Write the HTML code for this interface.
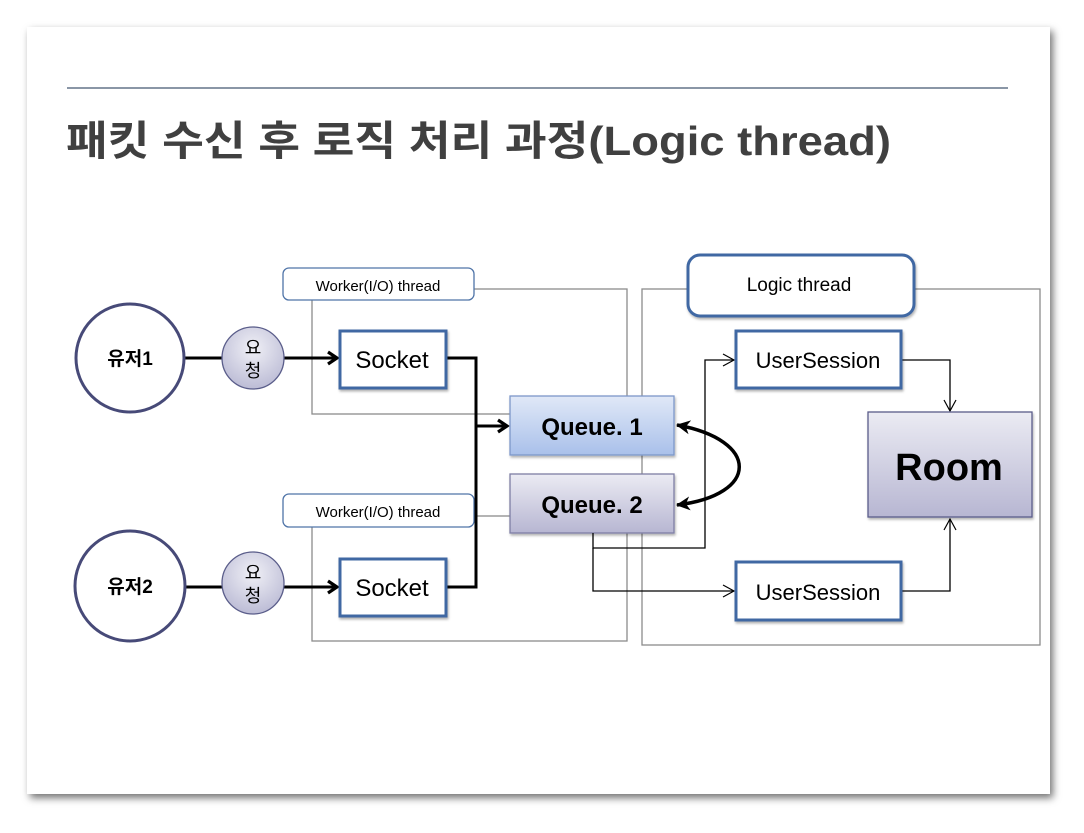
<!DOCTYPE html>
<html><head><meta charset="utf-8"><style>
body{margin:0;background:#fff;width:1084px;height:828px;overflow:hidden}
</style></head><body>
<svg width="1084" height="828" xmlns="http://www.w3.org/2000/svg" font-family="'Liberation Sans','Noto Sans CJK KR',sans-serif">
<defs>
<filter id="sh" x="-5%" y="-5%" width="110%" height="110%"><feDropShadow dx="3" dy="4" stdDeviation="4" flood-color="#000" flood-opacity="0.55"/></filter>
<filter id="s2"><feDropShadow dx="1" dy="2" stdDeviation="1.2" flood-color="#000" flood-opacity="0.3"/></filter>
<linearGradient id="q1" x1="0" y1="0" x2="0" y2="1"><stop offset="0" stop-color="#e0e8f7"/><stop offset="1" stop-color="#a9c0ea"/></linearGradient>
<linearGradient id="q2" x1="0" y1="0" x2="0" y2="1"><stop offset="0" stop-color="#ebebf3"/><stop offset="1" stop-color="#b7b6d2"/></linearGradient>
<radialGradient id="rq" cx="0.5" cy="0.35" r="0.7"><stop offset="0" stop-color="#f0f0f6"/><stop offset="1" stop-color="#b8b8d3"/></radialGradient>
<marker id="ab" markerWidth="14" markerHeight="16" refX="11" refY="8" orient="auto" markerUnits="userSpaceOnUse"><path d="M2,2 L11,8 L2,14" fill="none" stroke="#000" stroke-width="3.2"/></marker>
<marker id="at" markerWidth="14" markerHeight="14" refX="12" refY="7" orient="auto" markerUnits="userSpaceOnUse"><path d="M1,1 L12,7 L1,13" fill="none" stroke="#000" stroke-width="1.2"/></marker>
<marker id="cv" markerWidth="16" markerHeight="16" refX="13" refY="8" orient="auto-start-reverse" markerUnits="userSpaceOnUse"><path d="M0,1 L14,8 L0,15 L4,8Z" fill="#000"/></marker>
</defs>
<rect x="27" y="27" width="1023" height="767" fill="#fff" filter="url(#sh)"/>
<line x1="67" y1="88" x2="1008" y2="88" stroke="#8a96a6" stroke-width="2"/>
<text x="66" y="155" font-size="41" font-weight="bold" fill="#404040" textLength="825" lengthAdjust="spacingAndGlyphs">패킷 수신 후 로직 처리 과정(Logic thread)</text>

<rect x="312" y="289" width="315" height="125" fill="none" stroke="#8c8c8c" stroke-width="1.3"/>
<rect x="312" y="516" width="315" height="125" fill="none" stroke="#8c8c8c" stroke-width="1.3"/>
<rect x="642" y="289" width="398" height="356" fill="none" stroke="#8c8c8c" stroke-width="1.3"/>
<rect x="283" y="268" width="191" height="32" rx="6" fill="#fff" stroke="#4f74a8" stroke-width="1.3"/>
<text x="378" y="291" font-size="15" text-anchor="middle">Worker(I/O) thread</text>
<rect x="283" y="494" width="191" height="33" rx="6" fill="#fff" stroke="#4f74a8" stroke-width="1.3"/>
<text x="378" y="517" font-size="15" text-anchor="middle">Worker(I/O) thread</text>
<rect x="688" y="255" width="226" height="61" rx="12" fill="#fff" stroke="#3f67a3" stroke-width="3" filter="url(#s2)"/>
<text x="799" y="291" font-size="19" text-anchor="middle">Logic thread</text>

<line x1="184" y1="358" x2="337" y2="358" stroke="#000" stroke-width="3" marker-end="url(#ab)"/>
<line x1="184" y1="587" x2="337" y2="587" stroke="#000" stroke-width="3" marker-end="url(#ab)"/>
<polyline points="446,358 476,358 476,587 446,587" fill="none" stroke="#000" stroke-width="3"/>
<line x1="476" y1="426" x2="507" y2="426" stroke="#000" stroke-width="3" marker-end="url(#ab)"/>

<circle cx="130" cy="358" r="54" fill="#fff" stroke="#474a78" stroke-width="3"/>
<text x="130" y="365" font-size="19" font-weight="bold" text-anchor="middle">유저1</text>
<circle cx="130" cy="586" r="55" fill="#fff" stroke="#474a78" stroke-width="3"/>
<text x="130" y="593" font-size="19" font-weight="bold" text-anchor="middle">유저2</text>
<circle cx="253" cy="358" r="31" fill="url(#rq)" stroke="#5a5d8a" stroke-width="1.3"/>
<text x="253" y="354" font-size="18" text-anchor="middle">요</text><text x="253" y="377" font-size="18" text-anchor="middle">청</text>
<circle cx="253" cy="583" r="31" fill="url(#rq)" stroke="#5a5d8a" stroke-width="1.3"/>
<text x="253" y="579" font-size="18" text-anchor="middle">요</text><text x="253" y="602" font-size="18" text-anchor="middle">청</text>

<rect x="340" y="331" width="106" height="57" fill="#fff" stroke="#3f67a3" stroke-width="3" filter="url(#s2)"/>
<text x="392" y="368" font-size="24" text-anchor="middle">Socket</text>
<rect x="340" y="559" width="106" height="57" fill="#fff" stroke="#3f67a3" stroke-width="3" filter="url(#s2)"/>
<text x="392" y="596" font-size="24" text-anchor="middle">Socket</text>

<rect x="510" y="396" width="164" height="59" fill="url(#q1)" stroke="#7d97c9" stroke-width="1.3" filter="url(#s2)"/>
<text x="592" y="435" font-size="24" font-weight="bold" text-anchor="middle">Queue. 1</text>
<rect x="510" y="474" width="164" height="59" fill="url(#q2)" stroke="#7e7ea4" stroke-width="1.3" filter="url(#s2)"/>
<text x="592" y="513" font-size="24" font-weight="bold" text-anchor="middle">Queue. 2</text>

<path d="M677,425 C760,440 760,495 677,505" fill="none" stroke="#000" stroke-width="3.5" marker-start="url(#cv)" marker-end="url(#cv)"/>

<polyline points="593,533 593,548 705,548 705,360 734,360" fill="none" stroke="#000" stroke-width="1.3" marker-end="url(#at)"/>
<polyline points="593,548 593,591 734,591" fill="none" stroke="#000" stroke-width="1.3" marker-end="url(#at)"/>
<polyline points="901,360 950,360 950,411" fill="none" stroke="#000" stroke-width="1.3" marker-end="url(#at)"/>
<polyline points="901,591 950,591 950,519" fill="none" stroke="#000" stroke-width="1.3" marker-end="url(#at)"/>

<rect x="736" y="331" width="165" height="57" fill="#fff" stroke="#3f67a3" stroke-width="3" filter="url(#s2)"/>
<text x="818" y="368" font-size="22" text-anchor="middle">UserSession</text>
<rect x="736" y="562" width="165" height="58" fill="#fff" stroke="#3f67a3" stroke-width="3" filter="url(#s2)"/>
<text x="818" y="600" font-size="22" text-anchor="middle">UserSession</text>

<rect x="868" y="412" width="164" height="105" fill="url(#q2)" stroke="#5a5d8a" stroke-width="1.3" filter="url(#s2)"/>
<text x="949" y="480" font-size="38" font-weight="bold" text-anchor="middle">Room</text>
</svg>
</body></html>
